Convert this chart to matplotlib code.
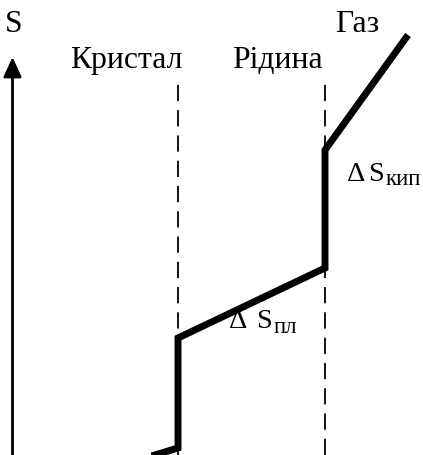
import matplotlib
matplotlib.use("Agg")
import matplotlib.pyplot as plt

# Entropy vs temperature path (arbitrary units)
T = [150, 178, 178, 325, 325, 408]
S = [-1.5, 7, 117, 187, 305, 420]
T_melt = 178
T_boil = 325
dash_top = 375

phase_labels = ["Кристал", "Рідина", "Газ"]
axis_label = "S"
delta = "Δ"
dS_melt_sub = "пл"
dS_boil_sub = "кип"

plt.rcParams['font.family'] = ['Liberation Serif', 'DejaVu Serif']

fig = plt.figure(figsize=(4.23, 4.55), dpi=100)
ax = fig.add_axes([0, 0, 1, 1])
ax.set_xlim(0, 423)
ax.set_ylim(0, 455)
ax.axis('off')

# dashed phase boundaries
for t in (T_melt, T_boil):
    ax.plot([t, t], [0, dash_top], color='black', lw=1.3, dashes=(9, 5))

# entropy path
ax.plot(T, S, color='black', lw=5, solid_joinstyle='miter', solid_capstyle='butt')

# vertical axis with arrow
ax.annotate('', xy=(12.5, 398), xytext=(12.5, -5),
            arrowprops=dict(arrowstyle='-|>,head_length=12,head_width=5.5',
                            mutation_scale=1, lw=2, color='black',
                            shrinkA=0, shrinkB=0))

fs = 22.8
ax.text(5, 423, axis_label, fontsize=fs, va='baseline', ha='left')
ax.text(70, 387, phase_labels[0], fontsize=fs, va='baseline', ha='left')
ax.text(232, 387, phase_labels[1], fontsize=fs, va='baseline', ha='left')
ax.text(335, 423, phase_labels[2], fontsize=fs, va='baseline', ha='left')

fs2 = 20.5
fs3 = 16.5
ax.text(347, 274, delta, fontsize=fs2, va='baseline', ha='left')
ax.text(368, 274, "S", fontsize=fs2, va='baseline', ha='left')
ax.text(386, 270, dS_boil_sub, fontsize=fs3, va='baseline', ha='left')
ax.text(229, 127, delta, fontsize=fs2, va='baseline', ha='left')
ax.text(256, 127, "S", fontsize=fs2, va='baseline', ha='left')
ax.text(274, 122, dS_melt_sub, fontsize=fs3, va='baseline', ha='left')

fig.savefig("out.png", dpi=100)
